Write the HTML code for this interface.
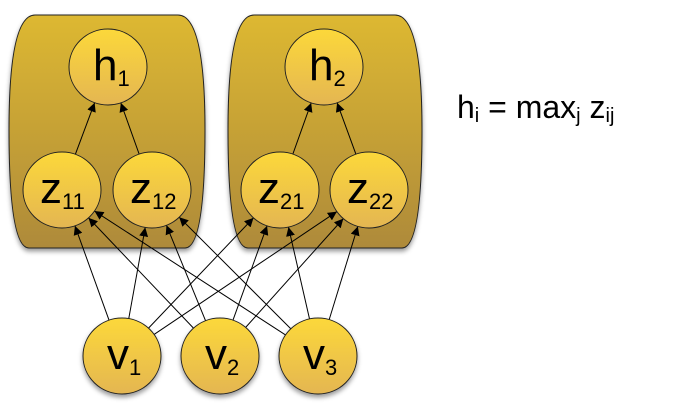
<!DOCTYPE html>
<html><head><meta charset="utf-8"><style>
html,body{margin:0;padding:0;background:#fff;width:700px;height:415px;overflow:hidden}
</style></head><body>
<svg id="s" width="700" height="415" xmlns="http://www.w3.org/2000/svg" font-family="Liberation Sans, sans-serif">
<defs>
<linearGradient id="bg" x1="0" y1="0" x2="0" y2="1"><stop offset="0" stop-color="#ddb832"/><stop offset="1" stop-color="#ae8a3a"/></linearGradient>
<linearGradient id="ng" x1="0" y1="0" x2="0" y2="1"><stop offset="0" stop-color="#fcd83a"/><stop offset="1" stop-color="#e4b652"/></linearGradient>
<marker id="ah" viewBox="0 0 10 10" refX="10" refY="5" markerWidth="9" markerHeight="9" markerUnits="userSpaceOnUse" orient="auto"><path d="M0,0 L10,5 L0,10 z" fill="#000"/></marker>
<filter id="sh" x="-20%" y="-20%" width="140%" height="140%"><feDropShadow dx="0" dy="3" stdDeviation="2.5" flood-color="#000" flood-opacity="0.4"/></filter>
</defs>
<path d="M35,15 L178,15 Q205,15 205,130 Q205,248 185,248 L29,248 Q9,248 9,130 Q9,15 35,15 Z" fill="url(#bg)" stroke="#222" stroke-width="1" filter="url(#sh)"/>
<path d="M254,15 L395,15 Q422,15 422,130 Q422,248 402,248 L248,248 Q228,248 228,130 Q228,15 254,15 Z" fill="url(#bg)" stroke="#222" stroke-width="1" filter="url(#sh)"/>
<g id="edges" stroke="#000" stroke-width="1" fill="none"></g>
<g id="nodes"></g>
<text x="457" y="118" font-size="32" fill="#000">h<tspan font-size="20" dy="4">i</tspan><tspan dy="-4"> = max</tspan><tspan font-size="20" dy="4">j</tspan><tspan dy="-4"> z</tspan><tspan font-size="20" dy="4">ij</tspan></text>
</svg>
<script>
var N={h1:[108,67,'h','1'],h2:[324,67,'h','2'],z11:[62,190,'z','11'],z12:[152,190,'z','12'],z21:[280,190,'z','21'],z22:[369,190,'z','22'],v1:[122,356,'v','1'],v2:[220,356,'v','2'],v3:[318,356,'v','3']};
var rx=39,ry=38,NS='http://www.w3.org/2000/svg';
function clip(a,b){var dx=b[0]-a[0],dy=b[1]-a[1];var t=1/Math.sqrt(dx*dx/(rx*rx)+dy*dy/(ry*ry));return [a[0]+dx*t,a[1]+dy*t];}
function edge(f,t){var a=N[f],b=N[t];var p=clip(a,b),q=clip(b,a);var l=document.createElementNS(NS,'line');l.setAttribute('x1',p[0]);l.setAttribute('y1',p[1]);l.setAttribute('x2',q[0]);l.setAttribute('y2',q[1]);l.setAttribute('marker-end','url(#ah)');document.getElementById('edges').appendChild(l);}
['v1','v2','v3'].forEach(function(v){['z11','z12','z21','z22'].forEach(function(z){edge(v,z);});});
edge('z11','h1');edge('z12','h1');edge('z21','h2');edge('z22','h2');
var g=document.getElementById('nodes');
for(var k in N){var n=N[k];var e=document.createElementNS(NS,'ellipse');e.setAttribute('cx',n[0]);e.setAttribute('cy',n[1]);e.setAttribute('rx',rx);e.setAttribute('ry',ry);e.setAttribute('fill','url(#ng)');e.setAttribute('stroke','#222');e.setAttribute('stroke-width','1');if(k[0]=='v')e.setAttribute('filter','url(#sh)');g.appendChild(e);
var t=document.createElementNS(NS,'text');t.setAttribute('x',n[0]-(n[3].length==2?22:15));t.setAttribute('y',n[1]+13);t.setAttribute('font-size','44');t.textContent=n[2];var s=document.createElementNS(NS,'tspan');s.setAttribute('font-size','22');s.setAttribute('dy','6');s.textContent=n[3];t.appendChild(s);g.appendChild(t);}
</script>
</body></html>
